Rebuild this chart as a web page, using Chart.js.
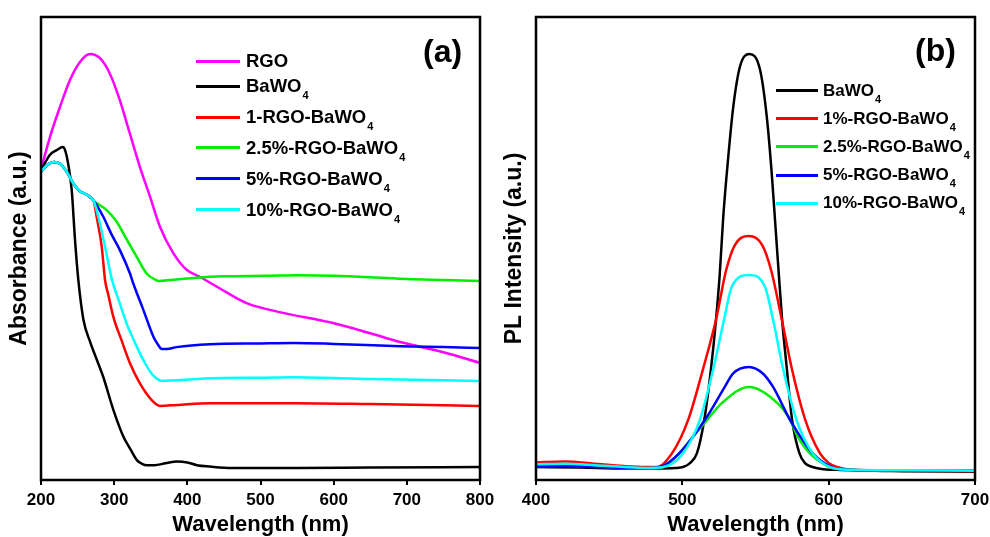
<!DOCTYPE html>
<html>
<head>
<meta charset="utf-8">
<script src="https://cdn.jsdelivr.net/npm/chart.js@4.4.1/dist/chart.umd.min.js"></script>
<style>
  html, body { margin: 0; padding: 0; background: #fff; }
  body { width: 990px; height: 537px; position: relative; overflow: hidden;
         font-family: 'Liberation Sans', Arial, sans-serif; }
  .panel { position: absolute; top: 0; width: 495px; height: 537px; }
  #panelA { left: 0; }
  #panelB { left: 495px; }
  .tag { position: absolute; font-weight: bold; font-size: 32px; line-height: 1; }
  .legend { position: absolute; }
  .legend .row { display: flex; align-items: center; font-weight: bold; white-space: nowrap; }
  .legend .swatch { height: 3px; }
  .legend sub { font-size: 11px; vertical-align: -7px; line-height: 0; margin-left: 1px; }
  #legendA { left: 196px; top: 46px; font-size: 18.5px; }
  #legendA .row { height: 30.8px; }
  #legendA .row:first-child { margin-bottom: -5.8px; }
  #legendA .swatch { width: 44px; margin-right: 6px; }
  #legendB { left: 776px; top: 76.6px; font-size: 17px; }
  #legendB .row { height: 28.15px; }
  #legendB .swatch { width: 42px; margin-right: 5px; }
</style>
</head>
<body>
<div class="panel" id="panelA"><canvas id="absChart" width="495" height="537"></canvas></div>
<div class="panel" id="panelB"><canvas id="plChart" width="495" height="537"></canvas></div>
<div class="tag" style="left:423px; top:35px;">(a)</div>
<div class="tag" style="left:915px; top:34px;">(b)</div>
<div class="legend" id="legendA"></div>
<div class="legend" id="legendB"></div>

<script>
// ===== (a) ABSORBANCE DATA =====
const absLabels = ['RGO', 'BaWO4', '1-RGO-BaWO4', '2.5%-RGO-BaWO4', '5%-RGO-BaWO4', '10%-RGO-BaWO4'];
const absColors = ['#ff00ff', '#000000', '#ff0000', '#00ee00', '#0000ff', '#00ffff'];

const rgoWl  = [200, 212.3, 226, 239.6, 253.3, 267, 280.6, 294, 307.6, 321.3, 335, 349, 362.6, 380.8, 399, 417, 440, 481, 531, 599, 650, 691, 750, 800];
const rgoAbs = [67.0, 74.1, 80.6, 86.4, 90.3, 92.0, 91.1, 87.8, 82.1, 74.9, 67.7, 61.2, 54.7, 49.0, 45.4, 43.9, 41.8, 38.2, 36.1, 33.9, 31.7, 29.8, 27.6, 25.3];

const bwoWl  = [200, 204, 212, 222, 229.6, 233, 237, 242, 246.5, 251, 258, 267, 275, 285, 299, 312.5, 322, 331, 338, 345, 355, 370, 386, 400, 413, 431, 460, 550, 650, 800];
const bwoAbs = [66.6, 68.0, 70.2, 71.3, 71.9, 71.2, 68.4, 62.6, 51.8, 43.2, 34.6, 29.9, 26.5, 22.3, 15.1, 9.4, 6.7, 4.3, 3.5, 3.2, 3.2, 3.6, 4.0, 3.8, 3.2, 2.9, 2.6, 2.6, 2.7, 2.8];

const rgo1Wl  = [200, 208, 218, 226, 235, 244, 253, 262, 268, 272, 276, 283, 287.5, 292, 298.8, 310, 321.6, 335, 351, 362.6, 385.5, 431, 545, 650, 800];
const rgo1Abs = [66.6, 68.0, 68.7, 68.3, 66.6, 64.1, 62.4, 61.7, 61.0, 60.3, 56.9, 50.4, 43.2, 40.0, 35.3, 30.2, 25.2, 20.9, 17.3, 16.0, 16.2, 16.6, 16.6, 16.4, 16.0];

const rgo25Wl  = [200, 208, 218, 226, 235, 244, 253, 262, 268, 272, 280, 289.7, 303, 317, 330.8, 344.4, 355.8, 362, 384.5, 412, 450, 509, 550, 600, 650, 700, 750, 800];
const rgo25Abs = [66.6, 68.0, 68.7, 68.3, 66.6, 64.1, 62.4, 61.7, 61.0, 60.3, 59.4, 58.3, 55.9, 52.0, 48.2, 44.6, 43.3, 43.0, 43.3, 43.7, 44.0, 44.1, 44.2, 44.1, 43.8, 43.4, 43.2, 43.0];

const rgo5Wl  = [200, 208, 218, 226, 235, 244, 253, 262, 268, 272, 277.5, 285, 296.6, 308, 321.6, 326, 340, 353.5, 360, 365, 372, 385.5, 431, 500, 545, 600, 691, 750, 800];
const rgo5Abs = [66.6, 68.0, 68.7, 68.3, 66.6, 64.1, 62.4, 61.7, 61.0, 60.3, 59.0, 56.9, 53.0, 49.6, 44.6, 42.5, 36.7, 31.0, 29.2, 28.3, 28.3, 28.7, 29.3, 29.5, 29.6, 29.4, 28.9, 28.7, 28.5];

const rgo10Wl  = [200, 208, 218, 226, 235, 244, 253, 262, 268, 272, 278.3, 287.5, 296.6, 308, 317, 326, 335, 343, 351, 358, 365, 380, 403.6, 431, 500, 545, 650, 800];
const rgo10Abs = [66.6, 68.0, 68.7, 68.3, 66.6, 64.1, 62.4, 61.7, 61.0, 60.3, 56.9, 50.4, 43.5, 38.0, 33.8, 30.5, 27.4, 25.0, 23.0, 21.9, 21.4, 21.5, 21.7, 22.0, 22.1, 22.2, 21.8, 21.4];

// ===== (b) PL DATA =====
const plLabels = ['BaWO4', '1%-RGO-BaWO4', '2.5%-RGO-BaWO4', '5%-RGO-BaWO4', '10%-RGO-BaWO4'];
const plColors = ['#000000', '#ff0000', '#00ee00', '#0000ff', '#00ffff'];

const plBwoWl = [400, 430, 460, 480, 495, 500.5, 505, 510, 515, 519.5, 523, 525.6, 528, 531.4, 534.8, 539.4, 545.8, 553.1, 557.7, 561.1, 563.5, 565.8, 568.2, 571.5, 575, 580, 584, 589, 595, 605, 650, 700];
const plBwo   = [2.8, 2.7, 2.5, 2.5, 2.6, 2.8, 3.6, 5.8, 13.0, 23.8, 34.6, 44.6, 57.0, 69.8, 80.6, 89.3, 92.0, 88.6, 78.5, 66.2, 55.4, 45.0, 34.6, 23.8, 13.0, 5.8, 3.6, 2.8, 2.4, 2.2, 1.9, 1.8];

const pl1Wl = [400, 420, 440, 460, 475, 482.6, 493, 504, 514, 523, 530, 536, 545.5, 554.5, 560.6, 568, 575, 584, 594, 600, 605.6, 615, 650, 700];
const pl1   = [3.8, 4.0, 3.5, 3.0, 2.8, 2.8, 5.8, 13.0, 23.8, 34.6, 45.4, 50.8, 52.7, 50.8, 45.4, 34.6, 23.8, 13.0, 5.8, 3.7, 2.8, 2.2, 2.0, 1.9];

const pl25Wl = [400, 420, 440, 460, 475, 487, 498, 507, 517, 527, 545.5, 565, 573.6, 579, 587, 601, 615, 650, 700];
const pl25   = [3.0, 3.1, 2.9, 2.6, 2.5, 2.8, 5.8, 9.3, 13.0, 16.6, 20.1, 16.6, 13.0, 9.3, 5.8, 2.8, 2.2, 2.0, 2.0];

const pl5Wl = [400, 420, 440, 460, 475, 485, 498, 515.5, 529, 534.6, 545.5, 555, 562, 573.6, 589, 602, 615, 650, 700];
const pl5   = [2.9, 3.0, 2.8, 2.6, 2.5, 2.8, 5.8, 13.0, 20.1, 23.0, 24.4, 23.0, 20.1, 13.0, 5.8, 2.8, 2.2, 2.0, 2.0];

const pl10Wl = [400, 420, 440, 460, 475, 487, 500.5, 512, 521, 528.5, 533.7, 545.5, 556.5, 562, 569, 578, 589, 601, 615, 650, 700];
const pl10   = [3.4, 3.5, 3.2, 2.8, 2.6, 2.8, 5.8, 13.0, 23.8, 34.6, 41.7, 44.3, 41.7, 34.6, 23.8, 13.0, 5.8, 2.8, 2.2, 2.1, 2.0];

// ===== HELPERS =====
const FONT = "'Liberation Sans', Arial, sans-serif";
const pts = (xs, ys) => xs.map((x, i) => ({ x, y: ys[i] }));

// black box round the plot area
const framePlugin = {
  id: 'frame',
  afterDatasetsDraw(chart) {
    const { ctx, chartArea: a } = chart;
    ctx.save();
    ctx.strokeStyle = '#000';
    ctx.lineWidth = 2.5;
    ctx.strokeRect(a.left, a.top, a.right - a.left, a.bottom - a.top);
    ctx.restore();
  }
};

function makeDatasets(labels, colors, series) {
  return series.map((s, i) => ({
    label: labels[i],
    data: pts(s[0], s[1]),
    borderColor: colors[i],
    borderWidth: 2.5,
    pointRadius: 0,
    fill: false,
    cubicInterpolationMode: 'monotone',
    order: labels.length - i
  }));
}

function makeChart(canvasId, datasets, xMin, xMax, yTitle) {
  return new Chart(document.getElementById(canvasId), {
    type: 'line',
    data: { datasets },
    options: {
      responsive: false,
      animation: false,
      layout: { padding: { top: 17, right: 15, left: 0, bottom: 0 } },
      plugins: { legend: { display: false }, tooltip: { enabled: false } },
      scales: {
        x: {
          type: 'linear', min: xMin, max: xMax,
          afterFit: s => { s.height = 57; s.paddingLeft = 0; s.paddingRight = 0; },
          border: { display: false },
          grid: { drawOnChartArea: false, drawTicks: true, tickLength: 5, color: '#000', lineWidth: 2 },
          ticks: { stepSize: 100, padding: 5, maxRotation: 0, autoSkip: false, color: '#000',
                   font: { family: FONT, size: 17, weight: 'bold' } },
          title: { display: true, text: 'Wavelength (nm)', color: '#000', padding: 0,
                   font: { family: FONT, size: 22, weight: 'bold', lineHeight: 1.1 } }
        },
        y: {
          min: 0, max: 100,
          afterFit: s => { s.width = 41; },
          border: { display: false },
          grid: { display: false },
          ticks: { display: false },
          title: { display: true, text: yTitle, color: '#000', padding: { top: 6, bottom: 0 },
                   font: { family: FONT, size: 23, weight: 'bold', lineHeight: 1.2 } }
        }
      }
    },
    plugins: [framePlugin]
  });
}

function buildLegend(el, chart) {
  el.innerHTML = chart.data.datasets.map(d => `
    <div class="row">
      <div class="swatch" style="background:${d.borderColor}"></div>
      <span>${d.label.replace(/O4$/, 'O<sub>4</sub>')}</span>
    </div>`).join('');
}

// ===== CHARTS =====
const absChart = makeChart('absChart', makeDatasets(absLabels, absColors, [
  [rgoWl, rgoAbs], [bwoWl, bwoAbs], [rgo1Wl, rgo1Abs],
  [rgo25Wl, rgo25Abs], [rgo5Wl, rgo5Abs], [rgo10Wl, rgo10Abs]
]), 200, 800, 'Absorbance (a.u.)');

const plChart = makeChart('plChart', makeDatasets(plLabels, plColors, [
  [plBwoWl, plBwo], [pl1Wl, pl1], [pl25Wl, pl25], [pl5Wl, pl5], [pl10Wl, pl10]
]), 400, 700, 'PL Intensity (a.u.)');

buildLegend(document.getElementById('legendA'), absChart);
buildLegend(document.getElementById('legendB'), plChart);
</script>
</body>
</html>
